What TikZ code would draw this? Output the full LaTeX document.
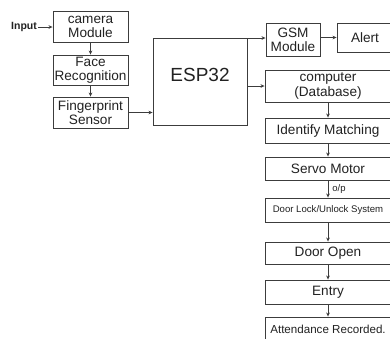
\documentclass[tikz,border=0pt]{standalone}
\usepackage{fontspec}
\setmainfont{Liberation Sans}
\usepackage{tikz}
\usetikzlibrary{arrows.meta,positioning,calc}
\definecolor{attInk}{HTML}{222222}
\definecolor{attLine}{HTML}{3C3C3C}
\tikzset{
  attbox/.style={draw=attLine, line width=0.9pt, align=center, inner sep=0pt,
                 font=\fontsize{13.6}{14.5}\selectfont, text=attInk},
  farr/.style={-{Stealth[length=4pt,width=3.6pt]}, line width=0.8pt, draw=attLine},
  attnote/.style={font=\fontsize{9.5}{11}\selectfont, text=attInk, inner sep=4pt},
}

\begin{document}
\begin{tikzpicture}[x=1pt,y=-1pt]
    \useasboundingbox[fill=white] (0,0) rectangle (390,338);
    % left column
    \node[font=\bfseries\fontsize{10.5}{12}\selectfont, text=attInk, inner sep=0pt] (input) at (24,27) {Input};
    \node[attbox, minimum width=75pt, minimum height=31pt] (cam) at (90.5,27) {camera\\Module};
    \node[attbox, minimum width=75pt, minimum height=30pt] (face) at (90.5,70) {Face\\Recognition};
    \node[attbox, minimum width=75pt, minimum height=31pt] (finger) at (90.5,112.5) {Fingerprint\\Sensor};
    \node[attbox, minimum width=94pt, minimum height=87pt] (esp) at (200,81.5) {};
    \node[font=\fontsize{19}{21}\selectfont, text=attInk] (esplabel) at (200,75) {ESP32};
    % right side
    \node[attbox, minimum width=54pt, minimum height=33pt] (gsm) at (293,40) {GSM\\Module};
    \node[attbox, minimum width=56pt, minimum height=29pt] (alert) at (365,37.5) {Alert};
    \node[attbox, minimum width=126pt, minimum height=32pt] (comp) at (328,86) {computer\\(Database)};
    \node[attbox, minimum width=126pt, minimum height=25pt] (ident) at (328,130.5) {Identify Matching};
    \node[attbox, minimum width=126pt, minimum height=23pt] (servo) at (328,168.5) {Servo Motor};
    \node[attbox, minimum width=126pt, minimum height=24pt, font=\fontsize{9.6}{11}\selectfont] (lock) at (328,210) {Door Lock/Unlock System};
    \node[attbox, minimum width=126pt, minimum height=22pt] (open) at (328,253) {Door Open};
    \node[attbox, minimum width=126pt, minimum height=24pt] (entry) at (328,292) {Entry};
    \node[attbox, minimum width=126pt, minimum height=24pt, font=\fontsize{11.6}{13}\selectfont] (attend) at (328,329) {Attendance Recorded.};
    \draw[farr] ([xshift=1pt]input.east)--(cam.west);
    \draw[farr] (cam)--(face);
    \draw[farr] (face)--(finger);
    \draw[farr] (finger.east)--(finger.east -| esp.west);
    \draw[farr] ([yshift=2pt]gsm.west -| esp.east)--([yshift=2pt]gsm.west);
    \draw[farr] (alert.west -| gsm.east)--(alert.west);
    \draw[farr] (comp.west -| esp.east)--(comp.west);
    \draw[farr] (comp)--(ident);
    \draw[farr] (ident)--(servo);
    \draw[farr] (servo)--node[right, attnote]{o/p} (lock);
    \draw[farr] (lock)--(open);
    \draw[farr] (open)--(entry);
    \draw[farr] (entry)--(attend);
\end{tikzpicture}
\end{document}
